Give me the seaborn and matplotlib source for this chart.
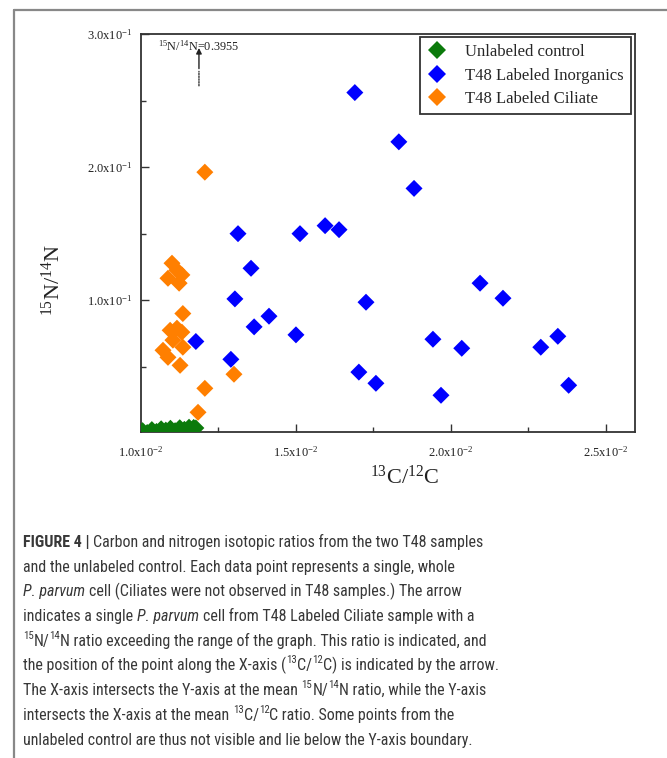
import numpy as np
import pandas as pd
import matplotlib
matplotlib.use("Agg")
import matplotlib.pyplot as plt
from matplotlib.lines import Line2D
from matplotlib import font_manager
import seaborn as sns

# ---------------- data ----------------
ctrl_c = [0.00995, 0.01005, 0.0102, 0.01035, 0.0105, 0.01065, 0.0108, 0.01095,
          0.0111, 0.01125, 0.0114, 0.01155, 0.0117, 0.01177, 0.0101, 0.0106, 0.0112, 0.0116]
ctrl_n = [0.0010, 0.0020, 0.0006, 0.0028, 0.0014, 0.0034, 0.0024, 0.0038,
          0.0020, 0.0042, 0.0030, 0.0046, 0.0044, 0.0040, -0.002, -0.001, -0.003, 0.0]

inorg_c = [0.0169, 0.01832, 0.01881, 0.01313, 0.01513, 0.01594, 0.01639, 0.01355,
           0.01303, 0.01413, 0.01365, 0.0150, 0.01726, 0.01177, 0.0129, 0.01703,
           0.01758, 0.01968, 0.02094, 0.02168, 0.01942, 0.02035, 0.0229, 0.02345, 0.0238]
inorg_n = [0.256, 0.219, 0.184, 0.150, 0.150, 0.156, 0.153, 0.124,
           0.101, 0.088, 0.080, 0.074, 0.0985, 0.069, 0.0556, 0.046,
           0.0376, 0.0286, 0.1128, 0.1015, 0.0707, 0.0639, 0.0647, 0.0729, 0.0361]

cil_c = [0.01206, 0.0110, 0.01116, 0.01087, 0.01132, 0.01123, 0.01135, 0.01116,
         0.01094, 0.01132, 0.01103, 0.01135, 0.01071, 0.01087, 0.01126, 0.0130,
         0.01206, 0.01184]
cil_n = [0.1962, 0.1278, 0.1226, 0.1165, 0.119, 0.1128, 0.090, 0.079,
         0.0774, 0.076, 0.070, 0.0647, 0.0624, 0.0571, 0.0511, 0.0444,
         0.0338, 0.0158]

groups = ["Unlabeled control", "T48 Labeled Inorganics", "T48 Labeled Ciliate"]
colors = ["#0b7a0b", "#0000ff", "#ff7f00"]

x_ticks = [0.010, 0.015, 0.020, 0.025]
x_ticklabels = ["1.0x10$^{-2}$", "1.5x10$^{-2}$", "2.0x10$^{-2}$", "2.5x10$^{-2}$"]
y_ticks = [0.1, 0.2, 0.3]
y_ticklabels = ["1.0x10$^{-1}$", "2.0x10$^{-1}$", "3.0x10$^{-1}$"]

offscale_c = 0.01187
offscale_label = "$^{15}$N/$^{14}$N=0.3955"

caption_lines = [
    [("FIGURE 4 |", "b"), (" Carbon and nitrogen isotopic ratios from the two T48 samples", "n")],
    [("and the unlabeled control. Each data point represents a single, whole", "n")],
    [("P. parvum", "i"), (" cell (Ciliates were not observed in T48 samples.) The arrow", "n")],
    [("indicates a single ", "n"), ("P. parvum", "i"), (" cell from T48 Labeled Ciliate sample with a", "n")],
    [("15", "s"), ("N/", "n"), ("14", "s"), ("N ratio exceeding the range of the graph. This ratio is indicated, and", "n")],
    [("the position of the point along the X-axis (", "n"), ("13", "s"), ("C/", "n"), ("12", "s"),
     ("C) is indicated by the arrow.", "n")],
    [("The X-axis intersects the Y-axis at the mean ", "n"), ("15", "s"), ("N/", "n"), ("14", "s"),
     ("N ratio, while the Y-axis", "n")],
    [("intersects the X-axis at the mean ", "n"), ("13", "s"), ("C/", "n"), ("12", "s"),
     ("C ratio. Some points from the", "n")],
    [("unlabeled control are thus not visible and lie below the Y-axis boundary.", "n")],
]

# ---------------- style ----------------
sns.set_style("ticks")
installed = {f.name for f in font_manager.fontManager.ttflist}
serif = "Liberation Serif" if "Liberation Serif" in installed else "DejaVu Serif"
cap_family = None
for cand in ["Liberation Sans Narrow", "Roboto Condensed", "Open Sans Condensed", "Roboto", "Liberation Sans"]:
    if cand in installed:
        cap_family = cand
        break
if cap_family is None:
    cap_family = "DejaVu Sans"

plt.rcParams["font.family"] = [serif, "DejaVu Serif"]
plt.rcParams["mathtext.fontset"] = "custom"
plt.rcParams["mathtext.rm"] = serif
plt.rcParams["mathtext.it"] = serif + ":italic"
plt.rcParams["mathtext.bf"] = serif + ":bold"

W, H, DPI = 667, 758, 100
fig = plt.figure(figsize=(W / DPI, H / DPI), dpi=DPI)
fig.patch.set_facecolor("white")

ax_l, ax_r, ax_t, ax_b = 141, 635, 34, 432
ax = fig.add_axes([ax_l / W, 1 - ax_b / H, (ax_r - ax_l) / W, (ax_b - ax_t) / H])
ax.set_facecolor("white")

df = pd.DataFrame({
    "c": ctrl_c + inorg_c + cil_c,
    "n": ctrl_n + inorg_n + cil_n,
    "group": [groups[0]] * len(ctrl_c) + [groups[1]] * len(inorg_c) + [groups[2]] * len(cil_c),
})

sns.scatterplot(data=df, x="c", y="n", hue="group", hue_order=groups,
                palette=dict(zip(groups, colors)), marker="D", s=75,
                edgecolor="none", linewidth=0, legend=False, ax=ax, zorder=3)

ax.set_xlim(0.01, 0.02594)
ax.set_ylim(0.001, 0.3)

ax.set_xticks(x_ticks)
ax.set_xticklabels(x_ticklabels)
ax.set_yticks(y_ticks)
ax.set_yticklabels(y_ticklabels)
ax.set_xticks([0.0125, 0.0175, 0.0225], minor=True)
ax.set_yticks([0.05, 0.15, 0.25], minor=True)
ax.tick_params(which="major", direction="in", length=6, width=1.0, color="#333333",
               labelsize=9, pad=9, labelcolor="#222222")
ax.tick_params(which="minor", direction="in", length=3.5, width=1.0, color="#333333")
ax.tick_params(axis="y", which="major", pad=6)

for s in ax.spines.values():
    s.set_visible(True)
    s.set_color("#333333")
    s.set_linewidth(1.3)

ax.set_xlabel("$^{13}$C/$^{12}$C", fontsize=16, color="#222222")
ax.set_ylabel("$^{15}$N/$^{14}$N", fontsize=16, color="#222222")
ax.xaxis.set_label_coords((405 - ax_l) / (ax_r - ax_l), -(466 - ax_b) / (ax_b - ax_t))
ax.yaxis.set_label_coords(-(ax_l - 65) / (ax_r - ax_l), (ax_b - 280) / (ax_b - ax_t))

# off-scale annotation
ax.annotate("", xy=(offscale_c, 0.274), xytext=(offscale_c, 0.259),
            arrowprops=dict(arrowstyle="-", linestyle=(0, (1, 1)), color="#333333", lw=1.0))
ax.annotate("", xy=(offscale_c, 0.2895), xytext=(offscale_c, 0.274),
            arrowprops=dict(arrowstyle="-|>", color="#222222", lw=1.0, mutation_scale=8,
                            shrinkA=0, shrinkB=0))
ax.text(0.01055, 0.291, offscale_label, fontsize=8.8, va="center", ha="left", color="#222222")

# legend
handles = [Line2D([], [], marker="D", ls="none", color=c, markersize=8.66, markeredgewidth=0)
           for c in colors]
leg = ax.legend(handles, groups, loc="upper right",
                bbox_to_anchor=((631 - ax_l) / (ax_r - ax_l), 1 - (37 - ax_t) / (ax_b - ax_t)),
                fontsize=12, frameon=True, fancybox=False, framealpha=1, edgecolor="#333333",
                handlelength=1.2, handletextpad=1.1, borderpad=0.42, labelspacing=0.45,
                borderaxespad=0)
leg.get_frame().set_linewidth(1.3)

# outer frame lines
fig.add_artist(Line2D([14 / W, 14 / W], [0, 1 - 10 / H], transform=fig.transFigure,
                      color="#888888", lw=1.6))
fig.add_artist(Line2D([14 / W, 1], [1 - 10 / H, 1 - 10 / H], transform=fig.transFigure,
                      color="#888888", lw=1.6))

# ---------------- caption ----------------
fig.canvas.draw()
rend = fig.canvas.get_renderer()


def text_width(txt, fs, **kw):
    t = fig.text(0, 0, txt, fontsize=fs, family=[cap_family, "DejaVu Sans"], **kw)
    w = t.get_window_extent(renderer=rend).width
    t.remove()
    return w


def line_width(segs, fs, place=False, x0=0, y0=0):
    sp = text_width("x x", fs) - text_width("xx", fs)
    x = x0
    for txt, st in segs:
        kw = {}
        size = fs
        yy = y0
        if st == "b":
            kw["fontweight"] = "bold"
        elif st == "i":
            kw["fontstyle"] = "italic"
        elif st == "s":
            size = fs * 0.68
            yy = y0 + fs * 0.42 * DPI / 72
        if txt.startswith(" "):
            x += sp
        core = txt.strip()
        if place:
            t = fig.text(x / W, yy / H, core, fontsize=size, family=[cap_family, "DejaVu Sans"],
                         ha="left", va="baseline", color="#383838", **kw)
            w = t.get_window_extent(renderer=rend).width
        else:
            w = text_width(core, size, **kw)
        x += w
        if txt.endswith(" ") and len(txt.strip()) > 0:
            x += sp
    return x - x0


fs0 = 13.0
target = 500 - 23
w0 = line_width(caption_lines[5], fs0)
fs = fs0 * target / w0
fs = min(fs, 13.5)

baselines = [547, 572, 596, 621, 646, 670, 695, 720, 745]
for segs, yb in zip(caption_lines, baselines):
    line_width(segs, fs, place=True, x0=23, y0=H - yb)

fig.savefig("out.png", dpi=DPI, facecolor="white")
